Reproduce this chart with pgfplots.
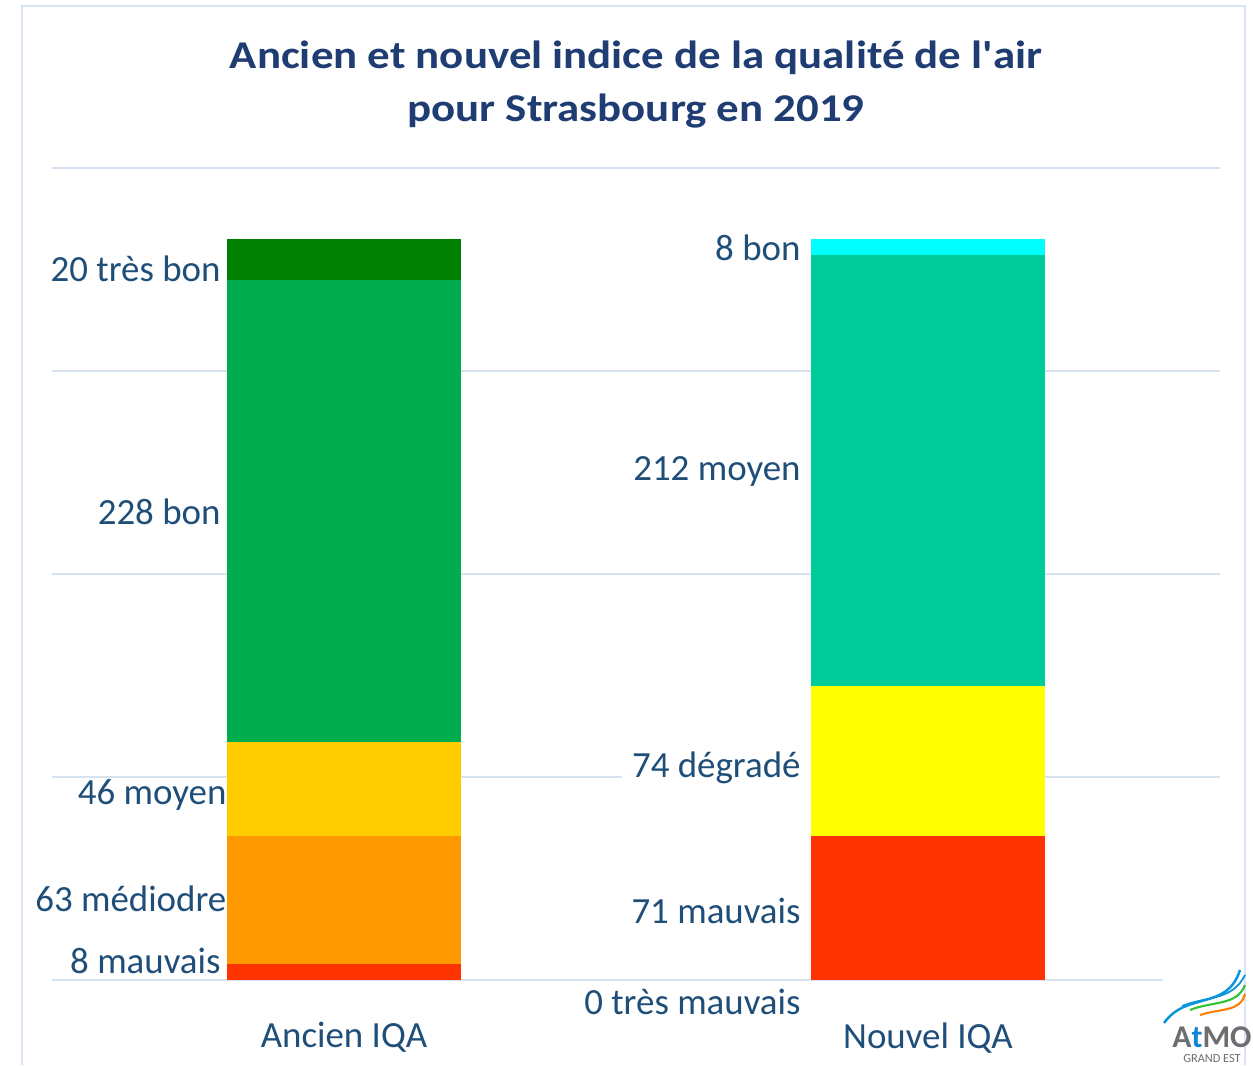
\documentclass[border=0pt]{standalone}
\usepackage{pgfplots}
\pgfplotsset{compat=1.18}
\usepackage{fontspec}
\setmainfont{Carlito}
\setsansfont{Carlito}

\definecolor{titleblue}{HTML}{1F3D73}
\definecolor{lblblue}{HTML}{1F4E79}
\definecolor{gridblue}{HTML}{D6E2F0}
\definecolor{framebl}{HTML}{DAE4F2}
% ancien
\definecolor{atresbon}{HTML}{007F00}
\definecolor{abon}{HTML}{00AD4E}
\definecolor{amoyen}{HTML}{FFCC00}
\definecolor{amedio}{HTML}{FF9900}
\definecolor{amauv}{HTML}{FF3300}
% nouvel
\definecolor{nbon}{HTML}{00FFFF}
\definecolor{nmoyen}{HTML}{00CC99}
\definecolor{ndegr}{HTML}{FFFF00}
\definecolor{nmauv}{HTML}{FF3300}
\definecolor{nvmauv}{HTML}{990033}
\definecolor{logogray}{HTML}{6D6E71}

\tikzset{
  lbl/.style={font=\fontsize{10.5}{12}\selectfont, text=lblblue, anchor=east, inner xsep=0.6mm, inner ysep=0.5mm},
  rlbl/.style={font=\fontsize{10.5}{12}\selectfont, text=lblblue, anchor=east, inner xsep=1.0mm, inner ysep=0.5mm},
}

\begin{document}
\begin{tikzpicture}
\useasboundingbox (-0.52,-0.85) rectangle (12.01,9.80);
\fill[white] (-0.52,-0.85) rectangle (12.01,9.80);
% frame
\draw[framebl, line width=0.6pt] (-0.30,-0.85) -- (-0.30,9.74) -- (11.93,9.74) -- (11.93,-0.85);

\begin{axis}[
  at={(0,0)}, anchor=south west,
  scale only axis,
  width=11.68cm, height=8.12cm,
  xmin=-0.5, xmax=1.5,
  ymin=0, ymax=400,
  ytick={0,100,200,300,400},
  yticklabels={},
  xtick={0,1},
  xticklabels={Ancien IQA,Nouvel IQA},
  xticklabel style={font=\fontsize{10.5}{12}\selectfont, text=lblblue, yshift=-3.0mm},
  ymajorgrids=true,
  grid style={draw=gridblue, line width=0.6pt},
  axis line style={draw=none},
  major tick length=0pt,
  ybar stacked,
  bar width=0.4,
  clip=false,
]
% Ancien IQA (x=0)
\addplot[fill=amauv, draw=none]    coordinates {(0,8) (1,0)};
\addplot[fill=amedio, draw=none]   coordinates {(0,63) (1,0)};
\addplot[fill=amoyen, draw=none]   coordinates {(0,46) (1,0)};
\addplot[fill=abon, draw=none]     coordinates {(0,228) (1,0)};
\addplot[fill=atresbon, draw=none] coordinates {(0,20) (1,0)};
% Nouvel IQA (x=1)
\addplot[fill=nvmauv, draw=none]   coordinates {(0,0) (1,0)};
\addplot[fill=nmauv, draw=none]    coordinates {(0,0) (1,71)};
\addplot[fill=ndegr, draw=none]    coordinates {(0,0) (1,74)};
\addplot[fill=nmoyen, draw=none]   coordinates {(0,0) (1,212)};
\addplot[fill=nbon, draw=none]     coordinates {(0,0) (1,8)};

% data labels
\node[lbl] at (axis cs:-0.2,350.2) {20 très bon};
\node[lbl] at (axis cs:-0.2,230.5) {228 bon};
\node[lbl] at (axis cs:-0.19,91.1) {46 moyen};
\node[lbl] at (axis cs:-0.19,39.9) {63 médiodre};
\node[lbl] at (axis cs:-0.2,9.4) {8 mauvais};
\node[rlbl] at (axis cs:0.8,360.6) {8 bon};
\node[rlbl] at (axis cs:0.8,250.7) {212 moyen};
\node[rlbl, fill=white] at (axis cs:0.8,104.4) {74 dégradé};
\node[rlbl] at (axis cs:0.8,34) {71 mauvais};
\node[rlbl] at (axis cs:0.8,-10.8) {0 très mauvais};
\end{axis}

% title
\node[font=\fontsize{11.2}{15.2}\selectfont\bfseries, text=titleblue, align=center]
  at (5.84,8.955) {\scalebox{1.14}[1]{Ancien et nouvel indice de la qualité de l\textquotesingle air}\\\scalebox{1.14}[1]{pour Strasbourg en 2019}};

% logo
\fill[white] (11.11,-0.06) rectangle (11.75,0.06);
\draw[cyan!80!blue, line width=0.7pt] (11.12,-0.43) .. controls (11.35,-0.11) and (11.75,-0.31) .. (11.88,0.10);
\draw[cyan!80!blue, line width=0.5pt] (11.30,-0.26) .. controls (11.55,-0.16) and (11.80,-0.21) .. (11.93,0.05);
\draw[green!70!black!80, line width=0.6pt] (11.38,-0.30) .. controls (11.60,-0.21) and (11.85,-0.26) .. (11.93,-0.05);
\draw[orange, line width=0.6pt] (11.48,-0.35) .. controls (11.70,-0.28) and (11.88,-0.32) .. (11.93,-0.14);
\node[font=\fontsize{9}{10}\selectfont\bfseries\sffamily, text=logogray, inner sep=0pt]
  at (11.60,-0.57) {A\textcolor{cyan!70!blue}{t}MO};
\node[font=\fontsize{3.5}{4}\selectfont\sffamily, text=logogray, inner sep=0pt]
  at (11.60,-0.79) {GRAND EST};
\end{tikzpicture}
\end{document}
